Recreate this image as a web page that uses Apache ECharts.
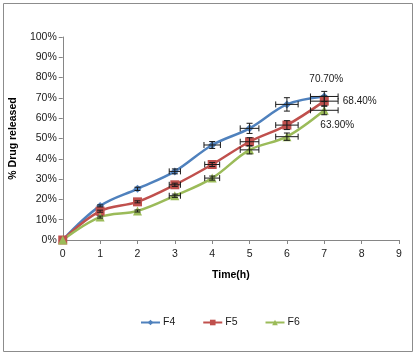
<!DOCTYPE html>
<html><head><meta charset="utf-8">
<script src="https://cdn.jsdelivr.net/npm/echarts@6/dist/echarts.min.js"></script>
<style>html,body{margin:0;padding:0;background:#fff}#c{width:416px;height:355px}</style>
</head><body><div id="c"></div>
<script>
const times = [0, 1, 2, 3, 4, 5, 6, 7];
const yTickLabels = ['0%','10%','20%','30%','40%','50%','60%','70%','80%','90%','100%'];
const seriesNames = ['F4', 'F5', 'F6'];
const f4 = [0, 16.8, 25.2, 33.8, 46.8, 55.0, 66.8, 70.7];
const f5 = [0, 14.2, 18.8, 27.2, 37.2, 48.4, 56.6, 68.4];
const f6 = [0, 11.3, 14.3, 21.8, 30.5, 44.4, 50.9, 63.9];
const f4XErr = [0, 0, 0, 0.15, 0.22, 0.25, 0.3, 0.37];
const f5XErr = [0, 0, 0, 0.15, 0.2, 0.25, 0.3, 0.37];
const f6XErr = [0, 0, 0, 0.15, 0.2, 0.25, 0.3, 0.37];
const f4YErr = [0, 0.5, 0.8, 1.2, 1.7, 2.5, 3.3, 2.5];
const f5YErr = [0, 0.5, 0.5, 0.8, 1.0, 2.0, 2.2, 2.5];
const f6YErr = [0, 0.5, 0.5, 0.8, 1.0, 2.0, 1.8, 2.2];
const endLabels = ['70.70%', '68.40%', '63.90%'];

const colors = ['#4F81BD', '#C0504D', '#9BBB59'];
const symbols = ['diamond', 'rect', 'triangle'];
const symbolSizes = [8, 9, 9];
const vals = [f4, f5, f6];
const xerrs = [f4XErr, f5XErr, f6XErr];
const yerrs = [f4YErr, f5YErr, f6YErr];
const labelCfg = [
  {position: 'top', distance: 8, offset: [2, 0]},
  {position: 'right', distance: 14},
  {position: 'bottom', distance: 5, offset: [13, 0]}
];

const font = 'Liberation Sans, Arial, sans-serif';
const series = [];
vals.forEach((v, si) => {
  series.push({
    name: seriesNames[si], type: 'line', smooth: 0.35,
    symbol: symbols[si], symbolSize: symbolSizes[si],
    color: colors[si], lineStyle: {width: 2.5, color: colors[si]},
    itemStyle: {color: colors[si]}, z: 3,
    data: times.map((t, i) => {
      const d = {value: [t, v[i]]};
      if (i === times.length - 1) {
        d.label = Object.assign({show: true, formatter: endLabels[si], color: '#1a1a1a',
          fontSize: 10, fontFamily: font}, labelCfg[si]);
      }
      return d;
    })
  });
  series.push({
    type: 'custom', z: 4, silent: true,
    data: times.map((t, i) => [t, v[i], xerrs[si][i], yerrs[si][i]]),
    renderItem: function (params, api) {
      const x = api.value(0), y = api.value(1), ex = api.value(2), ey = api.value(3);
      const ch = [];
      const st = {stroke: '#1a1a1a', lineWidth: 1};
      const cap = 3;
      if (ex > 0) {
        const a = api.coord([x - ex, y]), b = api.coord([x + ex, y]);
        ch.push({type: 'line', shape: {x1: a[0], y1: a[1], x2: b[0], y2: b[1]}, style: st});
        ch.push({type: 'line', shape: {x1: a[0], y1: a[1] - cap, x2: a[0], y2: a[1] + cap}, style: st});
        ch.push({type: 'line', shape: {x1: b[0], y1: b[1] - cap, x2: b[0], y2: b[1] + cap}, style: st});
      }
      if (ey > 0) {
        const a = api.coord([x, y - ey]), b = api.coord([x, y + ey]);
        ch.push({type: 'line', shape: {x1: a[0], y1: a[1], x2: b[0], y2: b[1]}, style: st});
        ch.push({type: 'line', shape: {x1: a[0] - cap, y1: a[1], x2: a[0] + cap, y2: a[1]}, style: st});
        ch.push({type: 'line', shape: {x1: b[0] - cap, y1: b[1], x2: b[0] + cap, y2: b[1]}, style: st});
      }
      return {type: 'group', children: ch};
    }
  });
});

const chart = echarts.init(document.getElementById('c'), null, {renderer: 'canvas'});
chart.setOption({
  animation: false,
  backgroundColor: '#fff',
  textStyle: {fontFamily: font},
  graphic: [{type: 'rect', shape: {x: 3.5, y: 3.5, width: 409, height: 348},
    style: {fill: 'none', stroke: '#8c8c8c', lineWidth: 1}, silent: true, z: -1}],
  grid: {left: 60, right: 17, top: 37, bottom: 115, containLabel: false},
  legend: {
    data: seriesNames, bottom: 22, left: 135, itemGap: 27, itemWidth: 19, itemHeight: 7,
    textStyle: {fontSize: 10.5, color: '#1a1a1a', fontFamily: font, padding: [0, 0, 0, -2]}
  },
  xAxis: {
    type: 'value', min: 0, max: 9, interval: 1,
    name: 'Time(h)', nameLocation: 'middle', nameGap: 30,
    nameTextStyle: {fontWeight: 'bold', fontSize: 10.5, color: '#000', fontFamily: font},
    axisLine: {lineStyle: {color: '#868686'}},
    axisTick: {show: true, length: 4, lineStyle: {color: '#868686'}},
    axisLabel: {fontSize: 10.5, color: '#1a1a1a', margin: 9},
    splitLine: {show: false}
  },
  yAxis: {
    type: 'value', min: 0, max: 100, interval: 10,
    name: '% Drug released', nameLocation: 'middle', nameGap: 42,
    nameTextStyle: {fontWeight: 'bold', fontSize: 10.5, color: '#000', fontFamily: font},
    axisLine: {show: true, lineStyle: {color: '#868686'}},
    axisTick: {show: true, length: 4, lineStyle: {color: '#868686'}},
    axisLabel: {fontSize: 10.5, color: '#1a1a1a', margin: 6,
      formatter: function (v) { return yTickLabels[Math.round(v / 10)]; }},
    splitLine: {show: false}
  },
  series: series
});
</script></body></html>
